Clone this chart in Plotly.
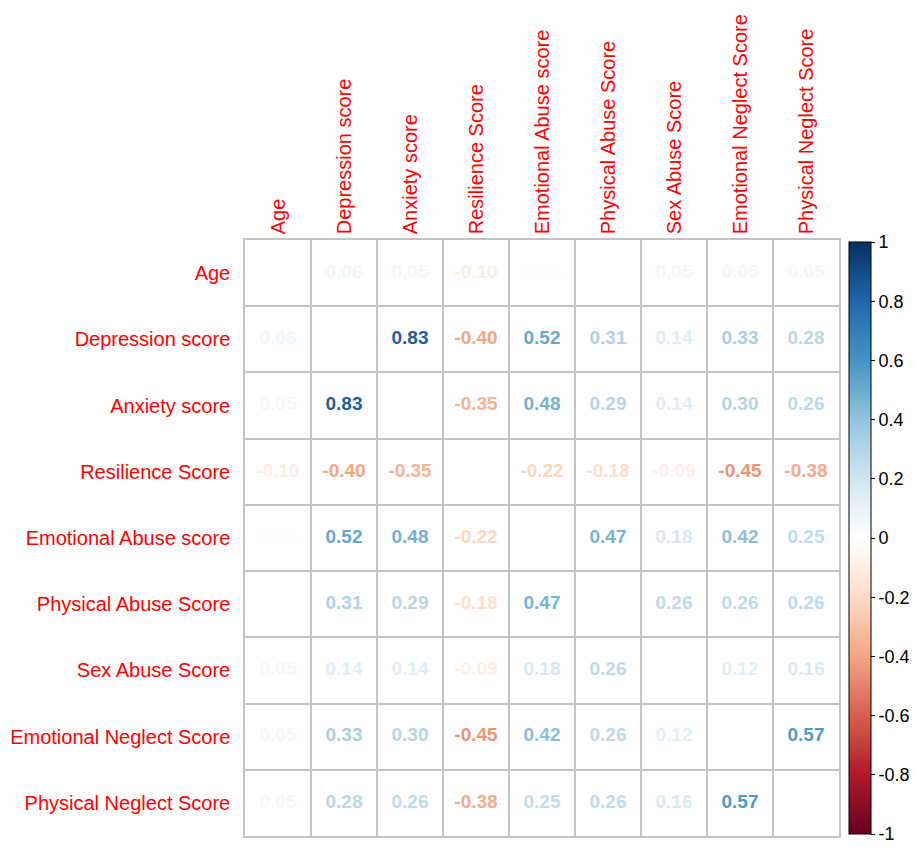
import plotly.graph_objects as go

variables = ["Age", "Depression score", "Anxiety score", "Resilience Score",
             "Emotional Abuse score", "Physical Abuse Score", "Sex Abuse Score",
             "Emotional Neglect Score", "Physical Neglect Score"]

r_age = [1.00, 0.06, 0.05, -0.10, 0.01, 0.00, 0.05, 0.05, 0.05]
r_dep = [0.06, 1.00, 0.83, -0.40, 0.52, 0.31, 0.14, 0.33, 0.28]
r_anx = [0.05, 0.83, 1.00, -0.35, 0.48, 0.29, 0.14, 0.30, 0.26]
r_res = [-0.10, -0.40, -0.35, 1.00, -0.22, -0.18, -0.09, -0.45, -0.38]
r_ea = [0.01, 0.52, 0.48, -0.22, 1.00, 0.47, 0.18, 0.42, 0.25]
r_pa = [0.00, 0.31, 0.29, -0.18, 0.47, 1.00, 0.26, 0.26, 0.26]
r_sa = [0.05, 0.14, 0.14, -0.09, 0.18, 0.26, 1.00, 0.12, 0.16]
r_en = [0.05, 0.33, 0.30, -0.45, 0.42, 0.26, 0.12, 1.00, 0.57]
r_pn = [0.05, 0.28, 0.26, -0.38, 0.25, 0.26, 0.16, 0.57, 1.00]
matrix = [r_age, r_dep, r_anx, r_res, r_ea, r_pa, r_sa, r_en, r_pn]

colorbar_ticks = [-1, -0.8, -0.6, -0.4, -0.2, 0, 0.2, 0.4, 0.6, 0.8, 1]
colorbar_labels = ["-1", "-0.8", "-0.6", "-0.4", "-0.2", "0", "0.2", "0.4", "0.6", "0.8", "1"]

palette = ["#67001F", "#B2182B", "#D6604D", "#F4A582", "#FDDBC7", "#FFFFFF",
           "#D1E5F0", "#92C5DE", "#4393C3", "#2166AC", "#053061"]


def hex2rgb(h):
    return tuple(int(h[i:i + 2], 16) for i in (1, 3, 5))


def val2color(v):
    t = (v + 1) / 2 * (len(palette) - 1)
    i = min(int(t), len(palette) - 2)
    f = t - i
    a, b = hex2rgb(palette[i]), hex2rgb(palette[i + 1])
    c = [round(a[k] + (b[k] - a[k]) * f) for k in range(3)]
    return "rgb(%d,%d,%d)" % tuple(c)


colorscale = [[i / (len(palette) - 1), c] for i, c in enumerate(palette)]

n = len(variables)
xs, ys, texts, cols = [], [], [], []
for i in range(n):
    for j in range(n):
        if i == j:
            continue
        v = matrix[i][j]
        xs.append(j + 0.5)
        ys.append(i + 0.5)
        texts.append("%.2f" % v)
        cols.append(val2color(v))

FONT = "Liberation Sans, Arial"

fig = go.Figure()
fig.add_trace(go.Scatter(
    x=xs, y=ys, mode="text", text=texts,
    textfont=dict(family=FONT, size=19, color=cols, weight="bold"),
    hoverinfo="skip", showlegend=False))

# page body has an 8px default margin; figure sized/offset to compensate
W, H = 909, 839
L, T = 237, 232
PW, PH = 594, 596

fig.add_trace(go.Scatter(
    x=[0.5, 0.5], y=[0.5, 0.5], mode="markers",
    marker=dict(size=0.1, opacity=0, color=[-1, 1], cmin=-1, cmax=1,
                colorscale=colorscale, showscale=True,
                colorbar=dict(
                    x=(841 - L) / PW, xanchor="left", xpad=0,
                    y=1 - 2 / PH, yanchor="top", len=(PH - 4) / PH,
                    lenmode="fraction", ypad=0,
                    thickness=22, outlinecolor="black", outlinewidth=1,
                    tickvals=colorbar_ticks, ticktext=colorbar_labels,
                    ticks="outside", ticklen=4, tickcolor="black",
                    tickfont=dict(family=FONT, size=18, color="black"))),
    hoverinfo="skip", showlegend=False))

GRID = "#C4C4C4"
fig.update_layout(
    width=W, height=H,
    margin=dict(l=L, r=W - L - PW, t=T, b=H - T - PH, autoexpand=False),
    paper_bgcolor="white", plot_bgcolor="white",
    xaxis=dict(range=[0, n], side="top", tickangle=-90,
               tickvals=[k + 0.5 for k in range(n)], ticktext=variables,
               tickfont=dict(family=FONT, size=20, color="red"),
               showgrid=False, zeroline=False, ticks="",
               showline=True, mirror=True, linecolor=GRID, linewidth=1.5,
               ticklabelstandoff=0, automargin=False,
               minor=dict(tickvals=list(range(n + 1)), showgrid=True,
                          gridcolor=GRID, gridwidth=1.5)),
    yaxis=dict(range=[n, 0],
               tickvals=[k + 0.5 for k in range(n)], ticktext=variables,
               tickfont=dict(family=FONT, size=20, color="red"),
               showgrid=False, zeroline=False, ticks="",
               showline=True, mirror=True, linecolor=GRID, linewidth=1.5,
               ticklabelstandoff=9, automargin=False,
               minor=dict(tickvals=list(range(n + 1)), showgrid=True,
                          gridcolor=GRID, gridwidth=1.5)),
)

fig.write_html("out.html")
